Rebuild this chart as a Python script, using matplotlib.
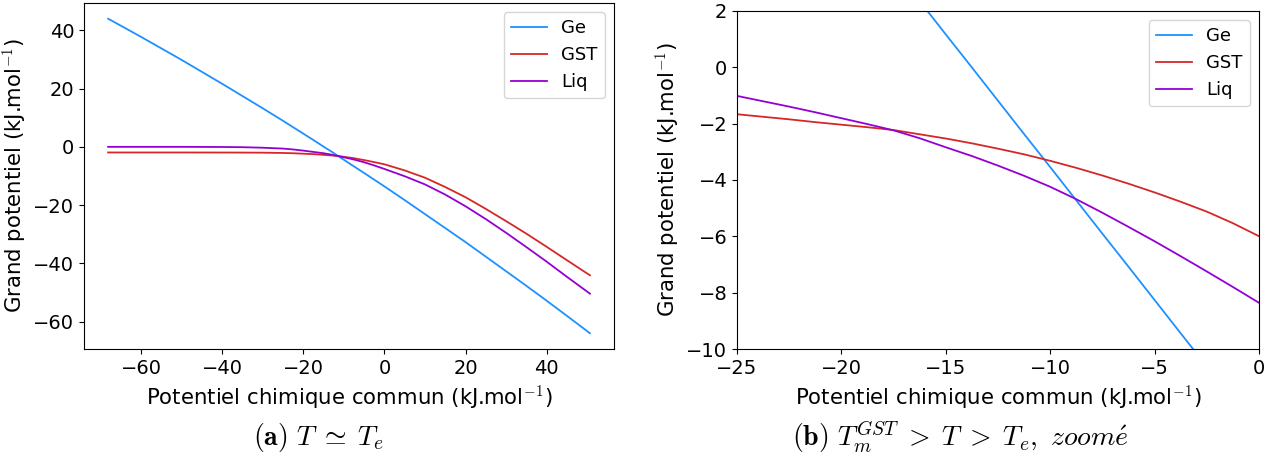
import matplotlib
matplotlib.use("Agg")
import matplotlib.pyplot as plt

plt.rcParams["mathtext.fontset"] = "cm"

# panel (a): T ~ Te
mu_a = [-68.2, -60, -50, -40, -35, -30, -25, -22.5, -20, -17.5, -15, -13, -11.3,
        -8, -5, -2.5, 0, 5, 10, 15, 20, 25, 30, 35, 40, 45, 50.7]
ge_a = [44.0, 37.7, 29.8, 21.6, 17.4, 13.2, 8.9, 6.7, 4.5, 2.3, 0.05, -1.7, -3.27,
        -6.3, -9.0, -11.3, -13.6, -18.3, -23.1, -27.9, -32.7, -37.7, -42.7,
        -47.7, -52.8, -58.0, -64.0]
gst_a = [-1.93, -1.93, -1.93, -1.95, -1.97, -2.0, -2.1, -2.2, -2.35, -2.5, -2.75,
         -2.95, -3.2, -3.8, -4.55, -5.25, -6.0, -8.1, -10.6, -13.8, -17.3, -21.3,
         -25.5, -29.8, -34.3, -38.9, -44.1]
liq_a = [0.0, 0.0, 0.0, -0.05, -0.12, -0.3, -0.6, -0.9, -1.3, -1.75, -2.2, -2.7,
         -3.2, -4.2, -5.3, -6.4, -7.6, -10.1, -12.9, -16.4, -20.4, -24.8, -29.5,
         -34.4, -39.4, -44.6, -50.4]

# panel (b): T_m^GST > T > Te, zoomed
mu_b = [-25, -23.75, -22.5, -21.25, -20, -18.75, -17.5, -16.25, -15, -13.75, -12.5,
        -11.25, -10, -8.75, -7.5, -6.25, -5, -3.75, -2.5, -1.25, 0]
ge_b = [10.57, 9.40, 8.22, 7.04, 5.87, 4.69, 3.51, 2.34, 1.16, -0.01, -1.19,
        -2.37, -3.54, -4.72, -5.90, -7.07, -8.25, -9.43, -10.60, -11.78, -12.95]
gst_b = [-1.67, -1.76, -1.85, -1.95, -2.04, -2.13, -2.23, -2.38, -2.53, -2.70, -2.89,
         -3.09, -3.32, -3.57, -3.84, -4.13, -4.44, -4.77, -5.12, -5.53, -5.99]
liq_b = [-1.02, -1.21, -1.40, -1.60, -1.81, -2.02, -2.24, -2.52, -2.84, -3.15, -3.49,
         -3.85, -4.24, -4.68, -5.16, -5.66, -6.17, -6.70, -7.24, -7.79, -8.35]

labels = ["Ge", "GST", "Liq"]
colors = ["#1e90ff", "#d62728", "#9400d3"]

xlabel = "Potentiel chimique commun (kJ.mol$^{-1}$)"
ylabel = "Grand potentiel (kJ.mol$^{-1}$)"

fig = plt.figure(figsize=(12.75, 4.62), dpi=100)
ax1 = fig.add_axes([0.0659, 0.2446, 0.4157, 0.749])
ax2 = fig.add_axes([0.578, 0.2439, 0.4094, 0.733])

for ys, lab, c in zip([ge_a, gst_a, liq_a], labels, colors):
    ax1.plot(mu_a, ys, color=c, label=lab, lw=1.3)
for ys, lab, c in zip([ge_b, gst_b, liq_b], labels, colors):
    ax2.plot(mu_b, ys, color=c, label=lab, lw=1.3)

ax2.set_xlim(-25, 0)
ax2.set_ylim(-10, 2)

for ax in (ax1, ax2):
    ax.set_xlabel(xlabel, fontsize=15.3)
    ax.set_ylabel(ylabel, fontsize=15.3)
    ax.tick_params(labelsize=14)
    ax.legend(loc="upper right", fontsize=13)

fig.text(0.25, 0.054, r"$\mathbf{(a)}\ T\;\simeq\;T_e$", ha="center", va="center",
         fontsize=20)
fig.text(0.753, 0.054,
         r"$\mathbf{(b)}\ T_m^{GST}\;>\;T\;>\;T_e,\ \mathit{zoom\acute{e}}$",
         ha="center", va="center", fontsize=20)

fig.savefig("out.png", dpi=100)
